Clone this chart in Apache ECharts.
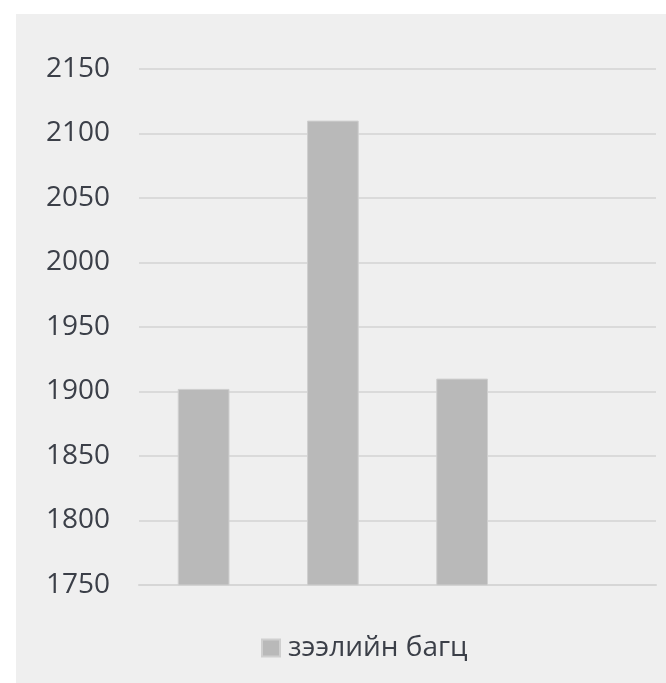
<!DOCTYPE html>
<html><head><meta charset="utf-8">
<script src="https://cdn.jsdelivr.net/npm/echarts@6/dist/echarts.min.js"></script>
<style>html,body{margin:0;padding:0;background:#fff}#c{width:666px;height:683px}</style>
</head><body><div id="c"></div>
<script>
const categories = ['', '', '', ''];
const seriesName = 'зээлийн багц';
const values = [1902, 2110, 1910, null];
const yTicks = [1750, 1800, 1850, 1900, 1950, 2000, 2050, 2100, 2150];

const chart = echarts.init(document.getElementById('c'));
const font = '"Open Sans", sans-serif';
chart.setOption({
  backgroundColor: '#ffffff',
  animation: false,
  graphic: [{type: 'rect', z: -10, shape: {x: 16, y: 14, width: 650, height: 669}, style: {fill: '#efefef'}}],
  grid: {left: 139, right: 10, top: 69, bottom: 98},
  legend: {
    left: 261, top: 634, padding: 0, itemWidth: 18, itemHeight: 17, itemGap: 8,
    icon: 'rect',
    data: [seriesName],
    textStyle: {fontFamily: font, fontSize: 28, color: '#3b3f48', padding: [0, 0, 0, 3]}
  },
  xAxis: {
    type: 'category', data: categories,
    axisLine: {lineStyle: {color: '#d6d6d6', width: 2}},
    axisTick: {show: false}, axisLabel: {show: false}
  },
  yAxis: {
    type: 'value', min: yTicks[0], max: yTicks[yTicks.length - 1], interval: 50,
    axisLine: {show: false}, axisTick: {show: false},
    axisLabel: {fontFamily: font, fontSize: 28, color: '#3b3f48', margin: 29, formatter: v => String(v)},
    splitLine: {lineStyle: {color: '#dadada', width: 2}}
  },
  series: [{
    name: seriesName, type: 'bar', data: values, barWidth: '40%',
    itemStyle: {color: '#b9b9b9', borderColor: '#cfcfcf', borderWidth: 1}
  }]
});
</script></body></html>
